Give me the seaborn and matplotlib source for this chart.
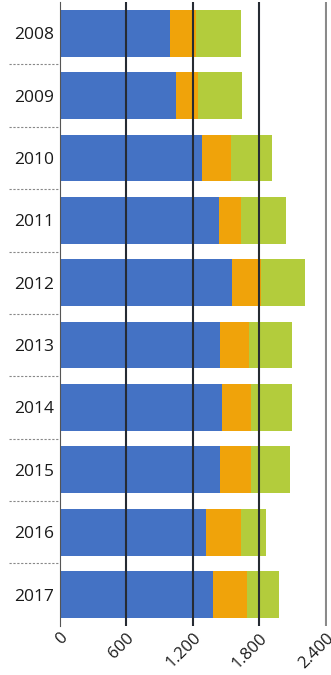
import numpy as np
import pandas as pd
import matplotlib
matplotlib.use("Agg")
import matplotlib.pyplot as plt
import matplotlib.transforms as mtransforms
import seaborn as sns

# data
years = ["2008", "2009", "2010", "2011", "2012", "2013", "2014", "2015", "2016", "2017"]
blue = [990, 1050, 1280, 1435, 1550, 1445, 1460, 1445, 1315, 1380]
orange = [240, 195, 260, 195, 260, 260, 260, 275, 315, 305]
green = [400, 395, 375, 410, 405, 385, 370, 360, 225, 295]
xticks = [0, 600, 1200, 1800, 2400]
xticklabels = ["0", "600", "1.200", "1.800", "2.400"]

df = pd.DataFrame({"year": years, "blue": blue, "orange": orange, "green": green})
df["s1"] = df["blue"]
df["s2"] = df["blue"] + df["orange"]
df["s3"] = df["s2"] + df["green"]

sns.set_style("white")
plt.rcParams["font.family"] = ["Open Sans", "DejaVu Sans"]

fig = plt.figure(figsize=(3.31, 6.75), dpi=100)
ax = fig.add_axes([0.181, 0.073, 0.807, 0.924])

# stacked bars: draw totals first, then cover with the lower parts
for col, c in [("s3", "#B3CC3C"), ("s2", "#F0A30A"), ("s1", "#4472C4")]:
    sns.barplot(data=df, x=col, y="year", order=years, color=c,
                width=0.75, saturation=1, ax=ax, zorder=2,
                edgecolor=c, linewidth=0)

ax.set_xlim(0, 2410)
ax.set_ylim(9.5, -0.5)

# vertical grid lines on top of the bars
for v in xticks[1:4]:
    ax.axvline(v, color="#262b33", lw=1.5, zorder=5)
ax.axvline(xticks[4], color="#8a8a8a", lw=1.5, zorder=5)

for s in ["top", "right", "bottom"]:
    ax.spines[s].set_visible(False)
ax.spines["left"].set_color("#555555")
ax.spines["left"].set_linewidth(0.8)
ax.spines["left"].set_zorder(6)

ax.set_xticks(xticks)
ax.set_xticklabels(xticklabels, rotation=45, ha="right", va="top",
                   rotation_mode="anchor", fontsize=12, color="#1a1a1a")
shift = mtransforms.ScaledTranslation(6 / 100, 0, fig.dpi_scale_trans)
for lab in ax.get_xticklabels():
    lab.set_transform(lab.get_transform() + shift)
ax.tick_params(axis="x", length=0, pad=3)
ax.tick_params(axis="y", length=0, pad=4, labelsize=12.5, labelcolor="#1a1a1a")
ax.set_xlabel("")
ax.set_ylabel("")

# dotted separators between the year labels
trans = mtransforms.blended_transform_factory(ax.transAxes, ax.transData)
for k in range(1, len(years)):
    ax.plot([-0.19, 0], [k - 0.5, k - 0.5], transform=trans, clip_on=False,
            color="#888888", lw=0.8, ls=(0, (2, 1.5)))

fig.savefig("out.png", dpi=100)
